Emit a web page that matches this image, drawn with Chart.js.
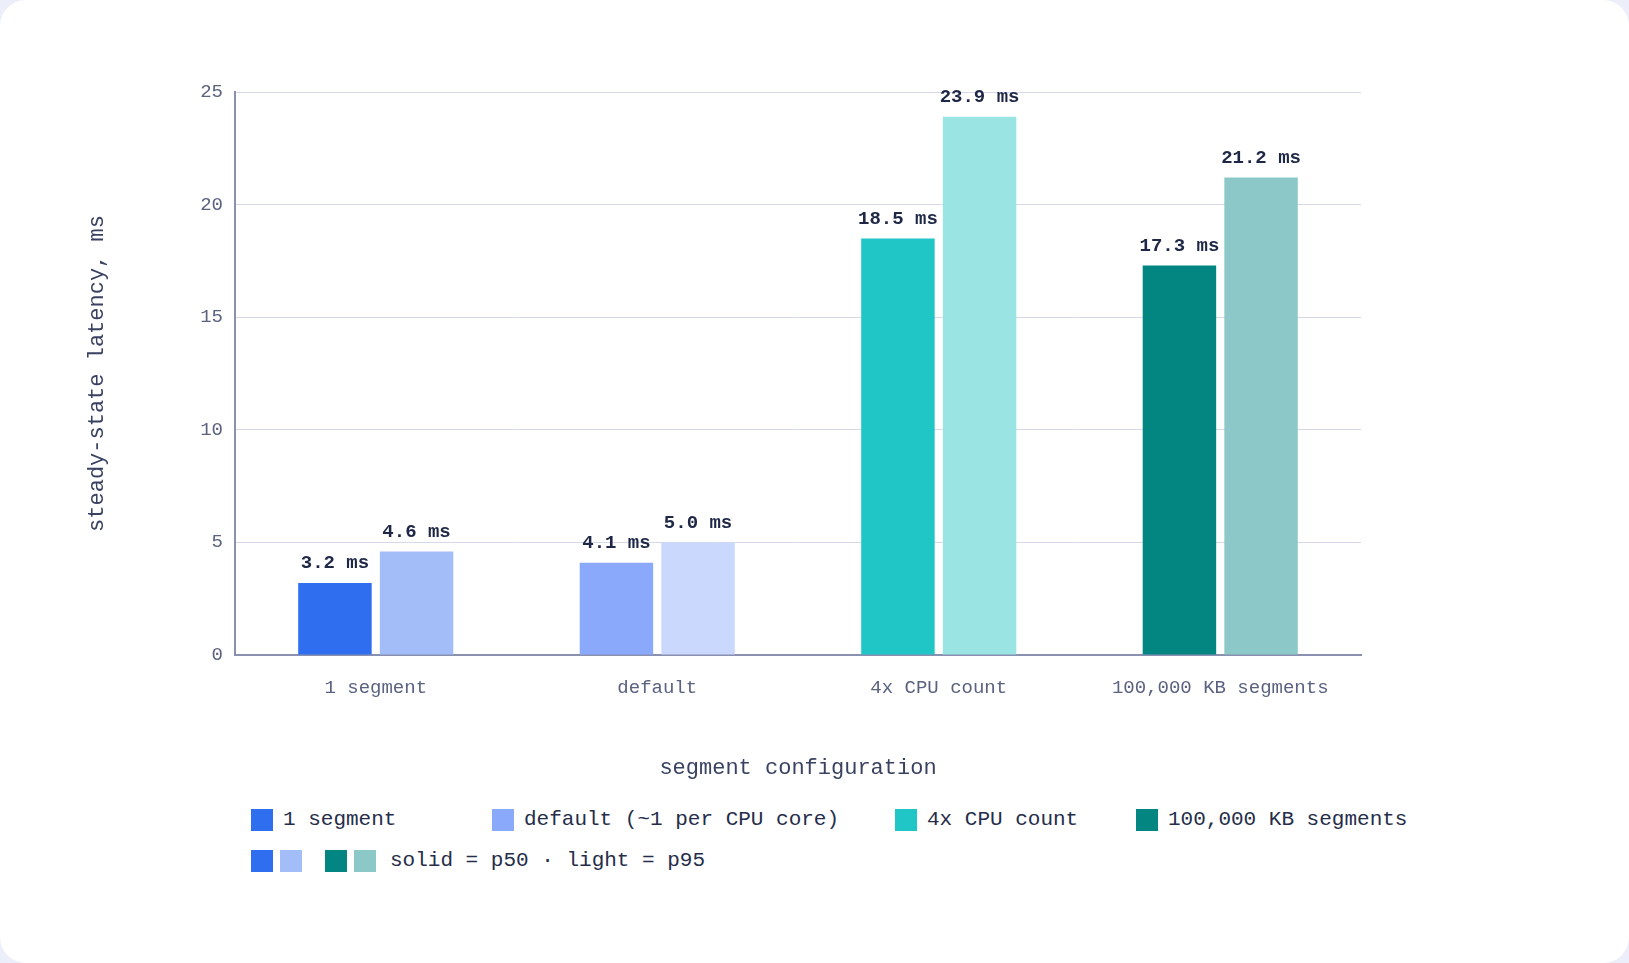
<!DOCTYPE html>
<html><head><meta charset="utf-8">
<script src="https://cdn.jsdelivr.net/npm/chart.js@4"></script>
<style>
html,body{margin:0;padding:0;background:#eceef9;width:1629px;height:963px;overflow:hidden;font-family:"Liberation Mono",monospace;}
#card{position:absolute;left:0;top:0;width:1629px;height:963px;background:#fff;border-radius:26px;}
#wrap{position:absolute;left:80px;top:0;width:1400px;height:800px;}
.leg{position:absolute;font-size:21px;color:#252d4a;display:flex;align-items:center;white-space:nowrap}
.sw{display:inline-block;width:22px;height:22px;margin-right:10px}
</style></head><body>
<div id="card">
<div id="wrap"><canvas id="c" width="1400" height="800"></canvas></div>
<div class="leg" style="left:251px;top:808px"><span class="sw" style="background:#2f6fef"></span>1 segment</div>
<div class="leg" style="left:492px;top:808px"><span class="sw" style="background:#8aa9fb"></span>default (~1 per CPU core)</div>
<div class="leg" style="left:895px;top:808px"><span class="sw" style="background:#20c6c6"></span>4x CPU count</div>
<div class="leg" style="left:1136px;top:808px"><span class="sw" style="background:#038682"></span>100,000 KB segments</div>
<div class="leg" style="left:251px;top:849px"><span class="sw" style="background:#2f6fef;margin-right:7px"></span><span class="sw" style="background:#a3bdf8;margin-right:23px"></span><span class="sw" style="background:#038682;margin-right:7px"></span><span class="sw" style="background:#8dc8c8;margin-right:14px"></span>solid = p50 · light = p95</div>
</div>
<script>
const categories=["1 segment","default","4x CPU count","100,000 KB segments"];
const p50=[3.2,4.1,18.5,17.3];
const p95=[4.6,5.0,23.9,21.2];
const p50Colors=["#2f6fef","#8aa9fb","#20c6c6","#038682"];
const p95Colors=["#a3bdf8","#cbd8fe","#9be4e4","#8dc8c8"];
const yTicks=[0,5,10,15,20,25];
const labelPlugin={id:"lbl",afterDatasetsDraw(ch){const ctx=ch.ctx;ctx.save();ctx.font="bold 19px 'Liberation Mono'";ctx.fillStyle="#1e2746";ctx.textAlign="center";ctx.textBaseline="bottom";
ch.data.datasets.forEach((d,i)=>{ch.getDatasetMeta(i).data.forEach((b,j)=>{ctx.fillText(d.data[j].toFixed(1)+" ms",b.x,b.y-10);});});ctx.restore();}};
new Chart(document.getElementById("c"),{type:"bar",
data:{labels:categories,datasets:[
{label:"p50",data:p50,backgroundColor:p50Colors,categoryPercentage:0.58,barPercentage:0.9},
{label:"p95",data:p95,backgroundColor:p95Colors,categoryPercentage:0.58,barPercentage:0.9}]},
options:{responsive:false,animation:false,devicePixelRatio:1,
layout:{padding:{top:92,right:119,bottom:15,left:0}},
plugins:{legend:{display:false},tooltip:{enabled:false}},
scales:{
x:{grid:{display:false},border:{color:"#8a90b0",width:2},ticks:{color:"#5a6280",font:{family:"Liberation Mono",size:19},padding:14},
 title:{display:true,text:"segment configuration",color:"#3a4262",font:{family:"Liberation Mono",size:22},padding:{top:40}},
 afterFit(s){s.height=130;}},
y:{min:0,max:25,afterBuildTicks(s){s.ticks=yTicks.map(v=>({value:v}));},grid:{color:"#d5d8e8",drawTicks:false},border:{color:"#8a90b0",width:2},
 ticks:{color:"#5a6280",font:{family:"Liberation Mono",size:19},padding:12},
 title:{display:true,text:"steady-state latency, ms",color:"#3a4262",font:{family:"Liberation Mono",size:22},padding:{bottom:55}},
 afterFit(s){s.width=155;}}}},
plugins:[labelPlugin]});
</script></body></html>
